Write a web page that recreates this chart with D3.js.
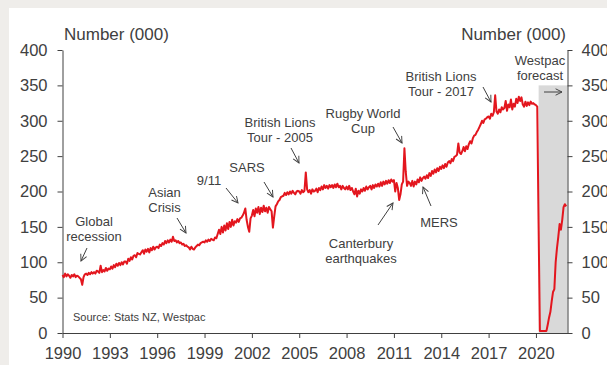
<!DOCTYPE html>
<html>
<head>
<meta charset="utf-8">
<script src="https://cdn.jsdelivr.net/npm/d3@7"></script>
<style>
  html, body { margin: 0; padding: 0; background: #efedea; }
  svg { display: block; }
  text { font-family: "Liberation Sans", Arial, sans-serif; fill: #404040; }
</style>
</head>
<body>
<svg id="chart" width="607" height="365"></svg>
<script>
// Monthly short-term visitor arrivals, thousands (Jan..Dec for each year)
const startYear = 1990;
const arrivals = [
  /* 1990 */ [82, 79, 84, 80, 83, 81, 78, 82, 80, 83, 79, 81],
  /* 1991 */ [80, 78, 76, 68, 79, 83, 84, 82, 85, 83, 86, 84],
  /* 1992 */ [86, 84, 88, 87, 85, 95, 86, 89, 87, 92, 88, 91],
  /* 1993 */ [90, 94, 91, 96, 93, 98, 95, 99, 96, 100, 97, 101],
  /* 1994 */ [101, 98, 105, 102, 107, 104, 109, 110, 107, 113, 112, 111],
  /* 1995 */ [114, 117, 112, 118, 115, 119, 114, 120, 117, 122, 118, 121],
  /* 1996 */ [122, 120, 125, 123, 127, 125, 130, 127, 131, 128, 132, 129],
  /* 1997 */ [136, 130, 131, 128, 130, 127, 128, 125, 126, 123, 124, 122],
  /* 1998 */ [121, 118, 122, 119, 118, 121, 123, 125, 124, 127, 128, 129],
  /* 1999 */ [128, 131, 129, 132, 130, 133, 132, 131, 135, 134, 140, 146],
  /* 2000 */ [140, 150, 142, 152, 145, 155, 147, 157, 150, 160, 152, 158],
  /* 2001 */ [156, 161, 157, 162, 163, 166, 170, 176, 160, 150, 143, 162],
  /* 2002 */ [166, 174, 165, 176, 170, 178, 168, 177, 171, 180, 172, 177],
  /* 2003 */ [170, 178, 175, 172, 149, 165, 179, 182, 186, 188, 192, 193],
  /* 2004 */ [194, 198, 195, 199, 196, 200, 197, 201, 198, 196, 200, 201],
  /* 2005 */ [200, 197, 202, 199, 201, 227, 203, 199, 202, 197, 203, 200],
  /* 2006 */ [201, 204, 199, 205, 202, 207, 203, 209, 205, 208, 204, 209],
  /* 2007 */ [206, 209, 205, 210, 206, 211, 206, 208, 203, 208, 205, 203],
  /* 2008 */ [207, 203, 208, 202, 205, 200, 196, 204, 193, 201, 197, 203],
  /* 2009 */ [200, 205, 201, 207, 203, 206, 208, 203, 209, 205, 210, 207],
  /* 2010 */ [211, 207, 213, 208, 214, 210, 215, 211, 216, 212, 217, 214],
  /* 2011 */ [216, 200, 212, 205, 188, 196, 210, 214, 261, 228, 208, 214],
  /* 2012 */ [212, 208, 215, 207, 214, 210, 217, 213, 220, 215, 219, 221],
  /* 2013 */ [218, 223, 219, 226, 222, 229, 225, 231, 227, 233, 229, 235],
  /* 2014 */ [232, 237, 233, 239, 235, 241, 243, 240, 246, 243, 249, 250],
  /* 2015 */ [252, 268, 255, 253, 257, 263, 257, 264, 260, 267, 271, 268],
  /* 2016 */ [275, 279, 280, 284, 287, 291, 295, 300, 297, 302, 303, 305],
  /* 2017 */ [306, 303, 310, 307, 312, 336, 313, 310, 316, 312, 319, 316],
  /* 2018 */ [318, 328, 314, 323, 319, 330, 316, 324, 320, 331, 325, 334],
  /* 2019 */ [328, 333, 323, 320, 327, 321, 326, 322, 327, 324, 325, 323],
  /* 2020 */ [322, 320, 155, 3, 3, 3, 3, 3, 3, 12, 22, 30],
  /* 2021 */ [45, 58, 62, 100, 120, 136, 154, 146, 160, 178, 182, 179]
];

const xDomain = [1990, 2022];
const yDomain = [0, 400];
const xTicks = [1990, 1993, 1996, 1999, 2002, 2005, 2008, 2011, 2014, 2017, 2020];
const yTicks = [0, 50, 100, 150, 200, 250, 300, 350, 400];
const forecastStart = 2020.17;
const forecastTop = 350;

// Text callouts: label lines with their centre, and an arrow from -> to
const callouts = [
  { lines: ["Global", "recession"], x: 94, y: 221, arrow: [[87, 248], [81, 261]] },
  { lines: ["Asian", "Crisis"], x: 164.5, y: 192, arrow: [[177, 218], [186, 233]] },
  { lines: ["9/11"], x: 209, y: 180, arrow: [[226, 188], [238, 203]] },
  { lines: ["SARS"], x: 247, y: 167, arrow: [[264, 182], [273, 197]] },
  { lines: ["British Lions", "Tour - 2005"], x: 280, y: 122, arrow: [[291, 148], [299, 163]] },
  { lines: ["Rugby World", "Cup"], x: 363, y: 113, arrow: [[393, 127], [402, 143]] },
  { lines: ["Canterbury", "earthquakes"], x: 361, y: 243, arrow: [[378, 225], [393, 203]] },
  { lines: ["MERS"], x: 439, y: 222, arrow: [[431, 206], [423, 187]] },
  { lines: ["British Lions", "Tour - 2017"], x: 441, y: 76, arrow: [[483, 87], [491, 102]] },
  { lines: ["Westpac", "forecast"], x: 540, y: 60, arrow: [[544, 92], [562, 92]] }
];

const series = [];
arrivals.forEach((row, i) => row.forEach((v, m) => series.push({ t: startYear + i + m / 12, v })));

const svg = d3.select("#chart");
const ink = "#404040";

svg.append("rect").attr("x", 9).attr("y", 8).attr("width", 598).attr("height", 357).attr("fill", "#ffffff");

const x = d3.scaleLinear().domain(xDomain).range([62.5, 567.5]);
const y = d3.scaleLinear().domain(yDomain).range([333, 50]);

// forecast shading
svg.append("rect")
  .attr("x", x(forecastStart)).attr("y", y(forecastTop))
  .attr("width", x(xDomain[1]) - x(forecastStart))
  .attr("height", y(0) - y(forecastTop))
  .attr("fill", "#d9d9d9");

// axes
const styleAxis = g => {
  g.select(".domain").attr("stroke", ink);
  g.selectAll(".tick line").attr("stroke", ink);
  g.selectAll(".tick text").attr("fill", ink)
    .style("font-family", '"Liberation Sans", Arial, sans-serif').style("font-size", "16.5px");
};

svg.append("g").attr("transform", `translate(${x(xDomain[0])},0)`)
  .call(d3.axisLeft(y).tickValues(yTicks).tickSize(5).tickSizeOuter(0).tickPadding(10))
  .call(styleAxis);

svg.append("g").attr("transform", `translate(${x(xDomain[1])},0)`)
  .call(d3.axisRight(y).tickValues(yTicks).tickSize(5).tickSizeOuter(0).tickPadding(9))
  .call(styleAxis);

svg.append("g").attr("transform", `translate(0,${y(0)})`)
  .call(d3.axisBottom(x).tickValues(xTicks).tickFormat(d3.format("d")).tickSize(5).tickSizeOuter(0).tickPadding(9))
  .call(styleAxis);

// series line
const line = d3.line().x(d => x(d.t)).y(d => y(d.v));
svg.append("path").datum(series)
  .attr("d", line)
  .attr("fill", "none")
  .attr("stroke", "#e3161e")
  .attr("stroke-width", 2)
  .attr("stroke-linejoin", "round");

// axis titles
svg.append("text").attr("x", 64).attr("y", 40).style("font-size", "17px").text("Number (000)");
svg.append("text").attr("x", 566).attr("y", 40).attr("text-anchor", "end").style("font-size", "17px").text("Number (000)");

svg.append("text").attr("x", 73).attr("y", 321).style("font-size", "11px").text("Source: Stats NZ, Westpac");

// arrowheads
svg.append("defs").append("marker")
  .attr("id", "head").attr("viewBox", "0 0 10 10")
  .attr("refX", 9).attr("refY", 5)
  .attr("markerWidth", 8).attr("markerHeight", 8)
  .attr("markerUnits", "userSpaceOnUse")
  .attr("orient", "auto")
  .append("path").attr("d", "M1,1 L9,5 L1,9")
  .attr("fill", "none").attr("stroke", ink).attr("stroke-width", 1.2);

const c = svg.append("g");
callouts.forEach(a => {
  const t = c.append("text").attr("text-anchor", "middle").style("font-size", "13px");
  a.lines.forEach((s, i) => t.append("tspan").attr("x", a.x).attr("y", a.y + 4.5 + i * 15).text(s));
  c.append("line")
    .attr("x1", a.arrow[0][0]).attr("y1", a.arrow[0][1])
    .attr("x2", a.arrow[1][0]).attr("y2", a.arrow[1][1])
    .attr("stroke", ink).attr("stroke-width", 1)
    .attr("marker-end", "url(#head)");
});
</script>
</body>
</html>
